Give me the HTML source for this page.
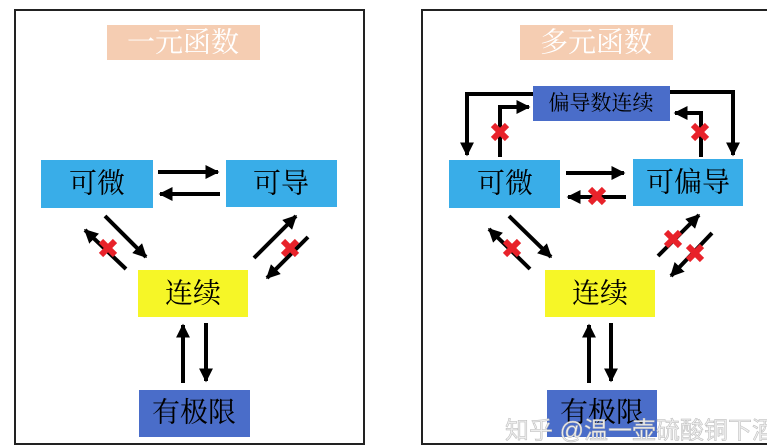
<!DOCTYPE html>
<html><head><meta charset="utf-8"><style>
html,body{margin:0;padding:0;background:#fff;width:767px;height:445px;overflow:hidden}
svg{display:block}
text{font-family:"Liberation Serif","Noto Serif CJK SC",serif;text-anchor:middle;dominant-baseline:central}
</style></head><body>
<svg width="767" height="445" viewBox="0 0 767 445" xmlns="http://www.w3.org/2000/svg">
<defs>
<marker id="a" viewBox="0 0 10 10" refX="9" refY="5" markerWidth="3.5" markerHeight="3.5" orient="auto" markerUnits="strokeWidth">
<path d="M0,0 L10,5 L0,10 z" fill="#000"/></marker>
<g id="x"><line x1="-7" y1="-7" x2="7" y2="7" stroke="#e8222a" stroke-width="6"/><line x1="-7" y1="7" x2="7" y2="-7" stroke="#e8222a" stroke-width="6"/></g>
</defs>
<g fill="none" stroke="#222" stroke-width="2">
<rect x="15" y="10" width="349" height="434"/>
<rect x="422" y="10" width="360" height="434"/>
</g>
<!-- LEFT -->
<rect x="107" y="25" width="153" height="35" fill="#f5cdb2"/>
<text x="183" y="43" font-size="28" fill="#fff">一元函数</text>
<rect x="41" y="160" width="112" height="48" fill="#39ade8"/>
<text x="97" y="184" font-size="28">可微</text>
<rect x="226" y="160" width="111" height="47" fill="#39ade8"/>
<text x="281" y="184" font-size="28">可导</text>
<rect x="138" y="270" width="110" height="47" fill="#f6f627"/>
<text x="193" y="294" font-size="28">连续</text>
<rect x="139" y="390" width="111" height="47" fill="#4a6dc9"/>
<text x="194" y="413" font-size="28">有极限</text>
<g stroke="#000" stroke-width="4" fill="none" marker-end="url(#a)">
<line x1="158" y1="172" x2="218" y2="172"/>
<line x1="220" y1="194" x2="160" y2="194"/>
<line x1="105" y1="216" x2="146" y2="257"/>
<line x1="126" y1="269" x2="85" y2="230"/>
<line x1="254" y1="258" x2="296" y2="216"/>
<line x1="308" y1="237" x2="267" y2="278"/>
<line x1="183" y1="383" x2="183" y2="325"/>
<line x1="206" y1="323" x2="206" y2="381"/>
</g>
<use href="#x" x="108" y="248"/>
<use href="#x" x="290" y="248"/>
<!-- RIGHT -->
<rect x="520" y="25" width="153" height="35" fill="#f5cdb2"/>
<text x="596" y="43" font-size="28" fill="#fff">多元函数</text>
<rect x="533" y="86" width="137" height="35" fill="#4a6dc9"/>
<text x="601" y="103" font-size="21">偏导数连续</text>
<rect x="449" y="160" width="111" height="48" fill="#39ade8"/>
<text x="505" y="184" font-size="28">可微</text>
<rect x="633" y="159" width="110" height="47" fill="#39ade8"/>
<text x="688" y="183" font-size="28">可偏导</text>
<rect x="545" y="270" width="110" height="47" fill="#f6f627"/>
<text x="600" y="294" font-size="28">连续</text>
<rect x="547" y="390" width="110" height="47" fill="#4a6dc9"/>
<text x="602" y="413" font-size="28">有极限</text>
<g stroke="#000" stroke-width="4" fill="none" marker-end="url(#a)">
<polyline points="533,94 467,94 467,155"/>
<polyline points="500,157 500,107 529,107"/>
<polyline points="670,92 733,92 733,155"/>
<polyline points="701,157 701,113 675,113"/>
<line x1="566" y1="173" x2="624" y2="173"/>
<line x1="626" y1="197" x2="568" y2="197"/>
<line x1="509" y1="216" x2="551" y2="257"/>
<line x1="530" y1="269" x2="489" y2="229"/>
<line x1="658" y1="256" x2="699" y2="215"/>
<line x1="712" y1="233" x2="671" y2="276"/>
<line x1="589" y1="383" x2="589" y2="325"/>
<line x1="611" y1="323" x2="611" y2="381"/>
</g>
<use href="#x" x="500" y="132"/>
<use href="#x" x="700" y="132"/>
<use href="#x" x="597" y="196"/>
<use href="#x" x="512" y="248"/>
<use href="#x" x="673" y="239"/>
<use href="#x" x="695" y="253"/>
<text x="505" y="431" font-size="24" fill="#eeeeee" stroke="#b8b8b8" stroke-width="0.5" style="font-family:'Liberation Sans','Noto Sans CJK SC',sans-serif;text-anchor:start">知乎 @温一壶硫酸铜下酒</text>
</svg>
</body></html>
